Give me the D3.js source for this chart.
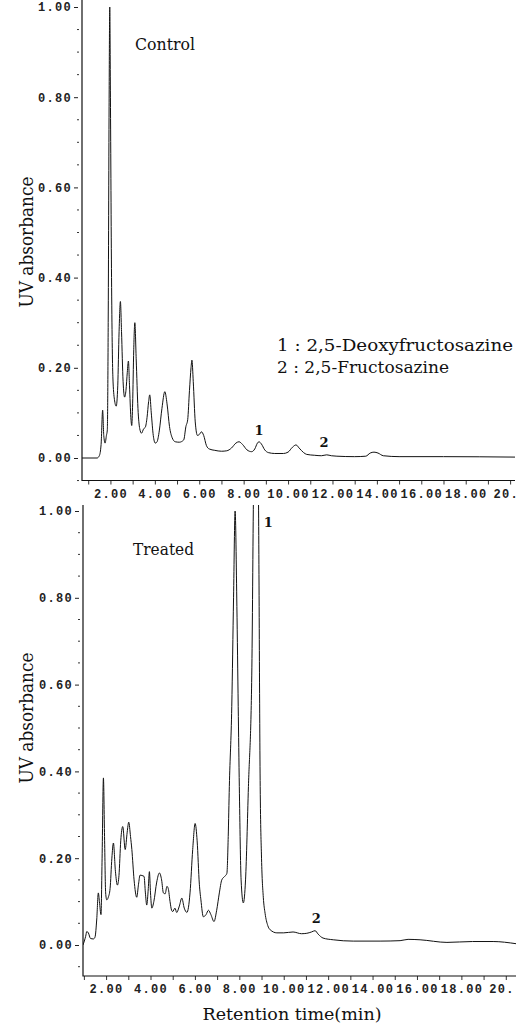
<!DOCTYPE html>
<html>
<head>
<meta charset="utf-8">
<script src="https://cdn.jsdelivr.net/npm/d3@7"></script>
<style>
body { margin: 0; background: #fff; }
svg { display: block; }
.tick-label { font-family: "Liberation Mono", "DejaVu Sans Mono", monospace; font-size: 12px; font-weight: bold; letter-spacing: 1.3px; fill: #222; }
.serif { font-family: "DejaVu Serif", "Liberation Serif", serif; fill: #111; }
</style>
</head>
<body>
<svg id="chart" width="523" height="1024"></svg>
<script>
// retention time (min) / UV absorbance
const controlTime = [0.72, 1.40, 1.50, 1.58, 1.65, 1.70, 1.76, 1.82, 1.86, 1.90,
  1.94, 1.97, 2.00, 2.05, 2.11, 2.18, 2.26, 2.33, 2.39, 2.45,
  2.50, 2.57, 2.64, 2.70, 2.76, 2.81, 2.86, 2.92, 2.96, 3.00,
  3.05, 3.10, 3.16, 3.24, 3.32, 3.40, 3.50, 3.57, 3.65, 3.72,
  3.77, 3.84, 3.93, 4.02, 4.10, 4.20, 4.32, 4.45, 4.55, 4.66,
  4.78, 4.92, 5.10, 5.30, 5.40, 5.48, 5.56, 5.63, 5.67, 5.73,
  5.82, 5.92, 6.00, 6.10, 6.20, 6.32, 6.45, 6.70, 7.00, 7.24,
  7.45, 7.65, 7.79, 7.95, 8.15, 8.36, 8.50, 8.62, 8.69, 8.80,
  8.95, 9.11, 9.40, 9.79, 10.00, 10.20, 10.36, 10.50, 10.70, 10.84,
  11.20, 11.50, 11.74, 11.95, 12.20, 13.00, 13.50, 13.70, 13.87, 14.05,
  14.29, 15.00, 17.00, 20.22];
const controlAbs = [0.000, 0.000, 0.005, 0.030, 0.106, 0.050, 0.033, 0.050, 0.062, 0.300,
  0.780, 1.000, 0.800, 0.400, 0.180, 0.130, 0.115, 0.160, 0.280, 0.347,
  0.280, 0.170, 0.135, 0.150, 0.190, 0.215, 0.160, 0.090, 0.072, 0.120,
  0.240, 0.300, 0.220, 0.110, 0.065, 0.055, 0.065, 0.068, 0.090, 0.125,
  0.140, 0.100, 0.050, 0.033, 0.036, 0.060, 0.110, 0.147, 0.120, 0.070,
  0.045, 0.036, 0.035, 0.040, 0.070, 0.085, 0.150, 0.200, 0.217, 0.170,
  0.080, 0.050, 0.052, 0.058, 0.050, 0.028, 0.020, 0.017, 0.015, 0.016,
  0.022, 0.033, 0.036, 0.030, 0.018, 0.014, 0.020, 0.033, 0.036, 0.031,
  0.018, 0.012, 0.010, 0.010, 0.013, 0.024, 0.029, 0.022, 0.012, 0.008,
  0.006, 0.005, 0.007, 0.005, 0.004, 0.003, 0.004, 0.011, 0.013, 0.011,
  0.005, 0.003, 0.003, 0.002];

const treatedTime = [0.96, 1.08, 1.13, 1.20, 1.30, 1.43, 1.50, 1.58, 1.65, 1.70,
  1.77, 1.82, 1.88, 1.93, 1.98, 2.03, 2.10, 2.18, 2.26, 2.33,
  2.42, 2.51, 2.58, 2.66, 2.75, 2.86, 2.95, 3.02, 3.10, 3.16,
  3.26, 3.38, 3.46, 3.53, 3.62, 3.71, 3.77, 3.83, 3.90, 3.95,
  4.00, 4.06, 4.15, 4.28, 4.40, 4.50, 4.58, 4.66, 4.74, 4.80,
  4.88, 4.95, 5.00, 5.10, 5.18, 5.30, 5.41, 5.52, 5.64, 5.78,
  5.90, 6.01, 6.10, 6.20, 6.27, 6.38, 6.50, 6.61, 6.72, 6.86,
  6.98, 7.10, 7.21, 7.34, 7.44, 7.50, 7.55, 7.66, 7.74, 7.81,
  7.89, 7.95, 8.00, 8.08, 8.18, 8.28, 8.41, 8.56, 8.64, 8.70,
  8.80, 8.86, 8.94, 9.00, 9.08, 9.16, 9.28, 9.39, 9.69, 10.00,
  10.42, 10.80, 11.04, 11.25, 11.41, 11.55, 11.77, 12.23, 13.13, 14.34,
  15.24, 15.60, 16.14, 17.35, 18.50, 19.43, 20.46];
const treatedAbs = [0.000, 0.020, 0.031, 0.028, 0.015, 0.014, 0.018, 0.060, 0.120, 0.100,
  0.070, 0.200, 0.385, 0.250, 0.120, 0.104, 0.110, 0.130, 0.200, 0.235,
  0.170, 0.138, 0.160, 0.240, 0.273, 0.220, 0.260, 0.283, 0.250, 0.220,
  0.150, 0.110, 0.140, 0.161, 0.160, 0.158, 0.120, 0.092, 0.130, 0.169,
  0.120, 0.085, 0.100, 0.145, 0.166, 0.150, 0.120, 0.118, 0.135, 0.130,
  0.100, 0.080, 0.077, 0.085, 0.075, 0.090, 0.108, 0.085, 0.075, 0.120,
  0.220, 0.280, 0.240, 0.140, 0.104, 0.065, 0.070, 0.080, 0.070, 0.054,
  0.080, 0.120, 0.150, 0.158, 0.165, 0.250, 0.365, 0.550, 0.800, 1.000,
  0.780, 0.550, 0.365, 0.150, 0.097, 0.150, 0.365, 0.620, 1.050, 1.250,
  1.250, 1.050, 0.365, 0.200, 0.110, 0.073, 0.045, 0.035, 0.028, 0.028,
  0.030, 0.026, 0.027, 0.030, 0.033, 0.025, 0.016, 0.012, 0.009, 0.009,
  0.010, 0.013, 0.012, 0.006, 0.008, 0.008, 0.003];

const yTicks = [0, 0.2, 0.4, 0.6, 0.8, 1.0];
const xTicks = d3.range(1, 21);
// the scan is cropped through the last time label
const xTickText = t => t === 20 ? "20." : (t % 2 === 0 ? d3.format(".2f")(t) : "");
const legendLines = ["1 : 2,5-Deoxyfructosazine", "2 : 2,5-Fructosazine"];
// peak number, retention time, absorbance where the number sits
const controlPeaks = [["1", 8.69, 0.051], ["2", 11.62, 0.024]];
const treatedPeaks = [["1", 9.30, 0.963], ["2", 11.46, 0.051]];

const svg = d3.select("#chart");

const panels = [
  { name: "Control", time: controlTime, abs: controlAbs, peaks: controlPeaks,
    left: 82, right: 515, top: 0, bottom: 480.5, zero: 458, full: 7,
    tRange: [0.72, 20.22], titleX: 135, titleY: 50, titleW: 60, yLabelY: 242, xPad: 5 },
  { name: "Treated", time: treatedTime, abs: treatedAbs, peaks: treatedPeaks,
    left: 83, right: 516, top: 505, bottom: 976, zero: 945, full: 511,
    tRange: [0.96, 20.46], titleX: 133, titleY: 555, titleW: 61, yLabelY: 718, xPad: 4 }
];

function drawPanel(p, i) {
  const x = d3.scaleLinear().domain(p.tRange).range([p.left, p.right]);
  const y = d3.scaleLinear().domain([0, 1]).range([p.zero, p.full]);
  const g = svg.append("g");

  svg.append("clipPath").attr("id", "plot" + i)
    .append("rect")
    .attr("x", p.left).attr("y", p.top)
    .attr("width", p.right - p.left).attr("height", p.bottom - p.top);

  // y axis ticks + labels
  g.append("g")
    .attr("transform", `translate(${p.left},0)`)
    .call(d3.axisLeft(y).tickValues(yTicks).tickFormat(d3.format(".2f")).tickSize(0))
    .call(a => a.select(".domain").remove())
    .call(a => a.selectAll(".tick line").attr("x1", -4).attr("x2", -8).attr("stroke", "#222"))
    .call(a => a.selectAll(".tick text").attr("x", -10).attr("class", "tick-label"));

  // minor y ticks every 0.05
  const minor = d3.range(-1, 21).filter(k => k % 4 !== 0).map(k => k * 0.05);
  g.selectAll(".minor").data(minor).join("line")
    .attr("x1", p.left - 5).attr("x2", p.left - 3)
    .attr("y1", d => y(d)).attr("y2", d => y(d))
    .attr("stroke", "#333");

  // x axis
  g.append("g")
    .attr("transform", `translate(0,${p.bottom})`)
    .call(d3.axisBottom(x).tickValues(xTicks.filter(t => t > p.tRange[0]))
      .tickFormat(xTickText)
      .tickSize(4).tickPadding(p.xPad))
    .call(a => a.select(".domain").remove())
    .call(a => a.selectAll(".tick line").attr("stroke", "#333"))
    .call(a => a.selectAll(".tick text").attr("class", "tick-label")
      .attr("text-anchor", d => d === 20 ? "start" : "middle")
      .attr("dx", d => d === 20 ? -17 : 0));

  // frame
  g.append("path")
    .attr("d", `M${p.left},${p.top}V${p.bottom}H${p.right}`)
    .attr("fill", "none").attr("stroke", "#111").attr("stroke-width", 1.2);

  // trace
  const pts = p.time.map((t, k) => [t, p.abs[k]]);
  g.append("path")
    .datum(pts)
    .attr("clip-path", `url(#plot${i})`)
    .attr("fill", "none")
    .attr("stroke", "#111")
    .attr("stroke-width", 1)
    .attr("d", d3.line().x(d => x(d[0])).y(d => y(d[1])).curve(d3.curveMonotoneX));

  g.append("text").attr("class", "serif")
    .attr("x", p.titleX).attr("y", p.titleY)
    .attr("font-size", 16.5)
    .attr("textLength", p.titleW).attr("lengthAdjust", "spacingAndGlyphs")
    .text(p.name);

  g.append("text").attr("class", "serif")
    .attr("transform", `translate(33,${p.yLabelY}) rotate(-90)`)
    .attr("text-anchor", "middle")
    .attr("font-size", 19)
    .attr("textLength", 131).attr("lengthAdjust", "spacingAndGlyphs")
    .text("UV absorbance");

  g.selectAll(".peak").data(p.peaks).join("text")
    .attr("class", "serif")
    .attr("x", d => x(d[1])).attr("y", d => y(d[2]))
    .attr("text-anchor", "middle")
    .attr("font-size", 13).attr("font-weight", "bold")
    .text(d => d[0]);
}

panels.forEach(drawPanel);

// legend in the control panel
svg.append("g").selectAll("text").data(legendLines).join("text")
  .attr("class", "serif")
  .attr("x", 277).attr("y", (d, i) => 351 + i * 22)
  .attr("font-size", 16)
  .attr("textLength", (d, i) => i === 0 ? 236 : 172)
  .attr("lengthAdjust", "spacingAndGlyphs")
  .text(d => d);

svg.append("text").attr("class", "serif")
  .attr("x", 292).attr("y", 1020)
  .attr("text-anchor", "middle")
  .attr("font-size", 17)
  .attr("textLength", 179).attr("lengthAdjust", "spacingAndGlyphs")
  .text("Retention time(min)");
</script>
</body>
</html>
